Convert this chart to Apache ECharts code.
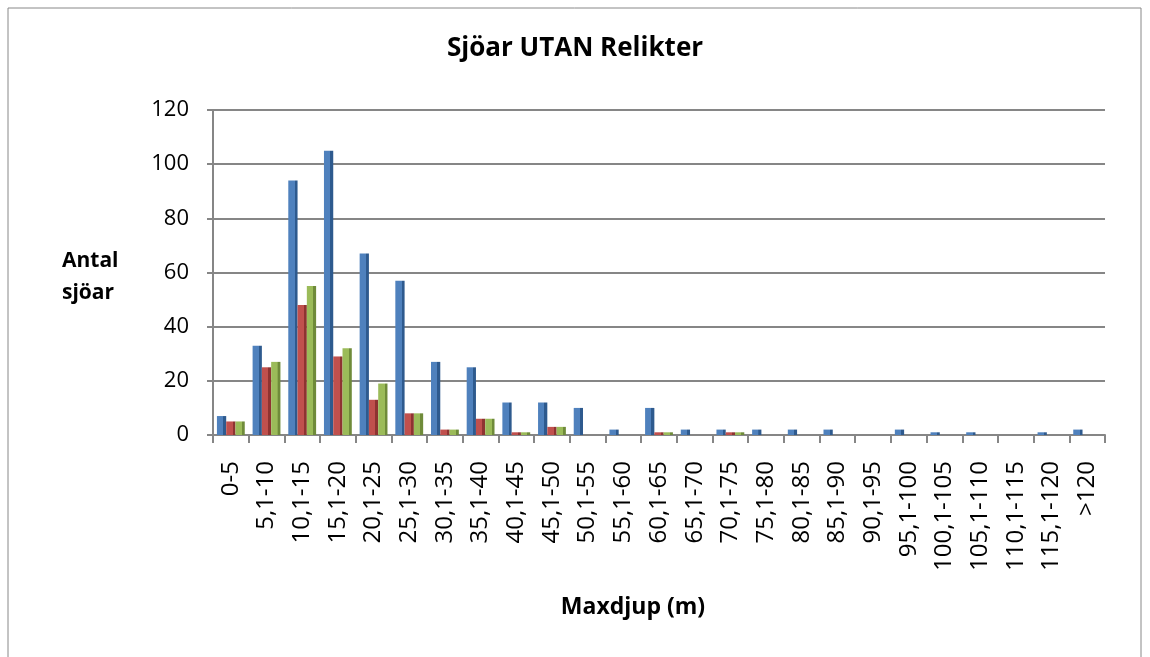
<!DOCTYPE html>
<html>
<head>
<meta charset="utf-8">
<script src="https://cdn.jsdelivr.net/npm/echarts@6/dist/echarts.min.js"></script>
<style>
  html, body { margin: 0; padding: 0; background: #fff; }
  #chart { width: 1150px; height: 657px; }
</style>
</head>
<body>
<div id="chart"></div>
<script>
const categories = ['0-5', '5,1-10', '10,1-15', '15,1-20', '20,1-25', '25,1-30', '30,1-35', '35,1-40',
  '40,1-45', '45,1-50', '50,1-55', '55,1-60', '60,1-65', '65,1-70', '70,1-75', '75,1-80', '80,1-85',
  '85,1-90', '90,1-95', '95,1-100', '100,1-105', '105,1-110', '110,1-115', '115,1-120', '>120']
const blueValues = [7, 33, 94, 105, 67, 57, 27, 25, 12, 12, 10, 2, 10, 2, 2, 2, 2, 2, 0, 2, 1, 1, 0, 1, 2]
const redValues = [5, 25, 48, 29, 13, 8, 2, 6, 1, 3, 0, 0, 1, 0, 1, 0, 0, 0, 0, 0, 0, 0, 0, 0, 0]
const greenValues = [5, 27, 55, 32, 19, 8, 2, 6, 1, 3, 0, 0, 1, 0, 1, 0, 0, 0, 0, 0, 0, 0, 0, 0, 0]
const yTicks = { min: 0, max: 120, interval: 20 }

const font = 'Open Sans, Noto Sans, sans-serif'

// flat front face plus a darker strip on the right, like Excel's 3D columns
function barColor (base, dark) {
  return new echarts.graphic.LinearGradient(0, 0, 1, 0, [
    { offset: 0, color: base },
    { offset: 0.68, color: base },
    { offset: 0.69, color: dark },
    { offset: 1, color: dark }
  ])
}

function makeSeries (name, data, base, dark) {
  return {
    name: name,
    type: 'bar',
    data: data,
    barGap: '0%',
    barCategoryGap: '22%',
    itemStyle: { color: barColor(base, dark) },
    emphasis: { disabled: true }
  }
}

const dom = echarts.init(document.getElementById('chart'))
const option = {
  animation: false,
  backgroundColor: '#fff',
  title: {
    text: 'Sjöar UTAN Relikter',
    left: 'center',
    top: 31,
    textStyle: { fontFamily: font, fontSize: 26, fontWeight: 'bold', color: '#000' }
  },
  graphic: [
    {
      type: 'rect',
      shape: { x: 8, y: 8, width: 1133, height: 670 },
      style: { fill: 'none', stroke: '#888', lineWidth: 1 }
    },
    {
      type: 'text',
      left: 62,
      top: 245,
      style: {
        text: 'Antal\nsjöar',
        font: 'bold 21px ' + font,
        fill: '#000',
        lineHeight: 32
      }
    },
    {
      type: 'text',
      x: 633,
      y: 607,
      style: {
        text: 'Maxdjup (m)',
        font: 'bold 23px ' + font,
        fill: '#000',
        align: 'center',
        verticalAlign: 'middle'
      }
    }
  ],
  grid: { left: 213, right: 45, top: 110, bottom: 222 },
  xAxis: {
    type: 'category',
    data: categories,
    axisLine: { lineStyle: { color: '#868686', width: 2 } },
    axisTick: { show: true, length: 8, lineStyle: { color: '#868686', width: 2 } },
    axisLabel: {
      rotate: 90,
      interval: 0,
      margin: 26,
      fontFamily: font,
      fontSize: 24,
      color: '#000'
    }
  },
  yAxis: {
    type: 'value',
    min: yTicks.min,
    max: yTicks.max,
    interval: yTicks.interval,
    axisLine: { show: true, lineStyle: { color: '#868686', width: 2 } },
    axisTick: { show: true, length: 6, lineStyle: { color: '#868686', width: 2 } },
    axisLabel: { margin: 24, fontFamily: font, fontSize: 22, color: '#000' },
    splitLine: { lineStyle: { color: '#868686', width: 2 } }
  },
  series: [
    makeSeries('Serie1', blueValues, '#4F81BD', '#2E5A8E'),
    makeSeries('Serie2', redValues, '#C0504D', '#8E3331'),
    makeSeries('Serie3', greenValues, '#9BBB59', '#6F8B3A')
  ]
}
dom.setOption(option)
</script>
</body>
</html>
